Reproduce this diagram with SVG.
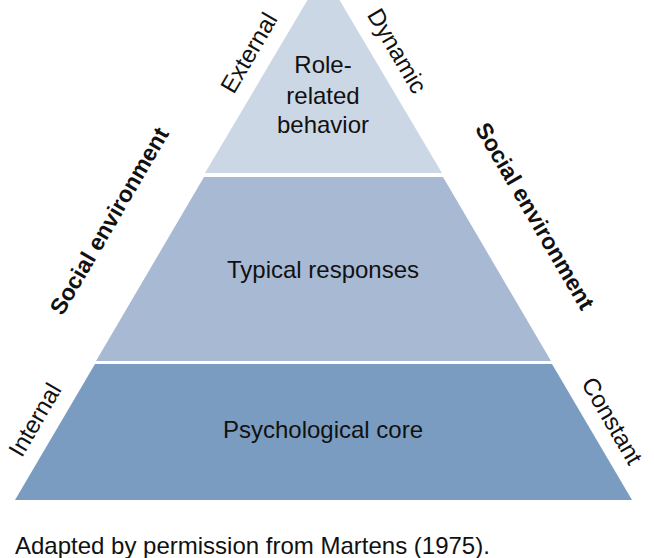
<svg xmlns="http://www.w3.org/2000/svg" width="654" height="558" viewBox="0 0 654 558">
<style>
text{font-family:"Liberation Sans",Arial,sans-serif;fill:#111;font-size:24px;text-anchor:middle}
.b{font-weight:bold;font-size:23px}
</style>
<rect width="654" height="558" fill="#fff"/>
<g id="top"><polygon points="323.5,-27 442,173 205,173" fill="#ccd7e6"/>
<text x="323" y="73">Role-</text><text x="323" y="104">related</text><text x="323" y="133">behavior</text></g>
<g id="middle"><polygon points="204,177 443,177 551,361 96,361" fill="#a8b9d4"/>
<text x="323" y="278">Typical responses</text></g>
<g id="bottom"><polygon points="95,364 552,364 632,500 15,500" fill="#7a9cc0"/>
<text x="323" y="438">Psychological core</text></g>
<g id="labels">
<text transform="translate(256,57) rotate(-59.7)">External</text>
<text transform="translate(390,55) rotate(59.7)">Dynamic</text>
<text class="b" transform="translate(116,225) rotate(-59.7)">Social environment</text>
<text class="b" transform="translate(528,220) rotate(59.7)">Social environment</text>
<text transform="translate(42,424) rotate(-59.7)">Internal</text>
<text transform="translate(605,425) rotate(59.7)">Constant</text>
</g>
<text x="15" y="554" style="text-anchor:start">Adapted by permission from Martens (1975).</text>
</svg>
